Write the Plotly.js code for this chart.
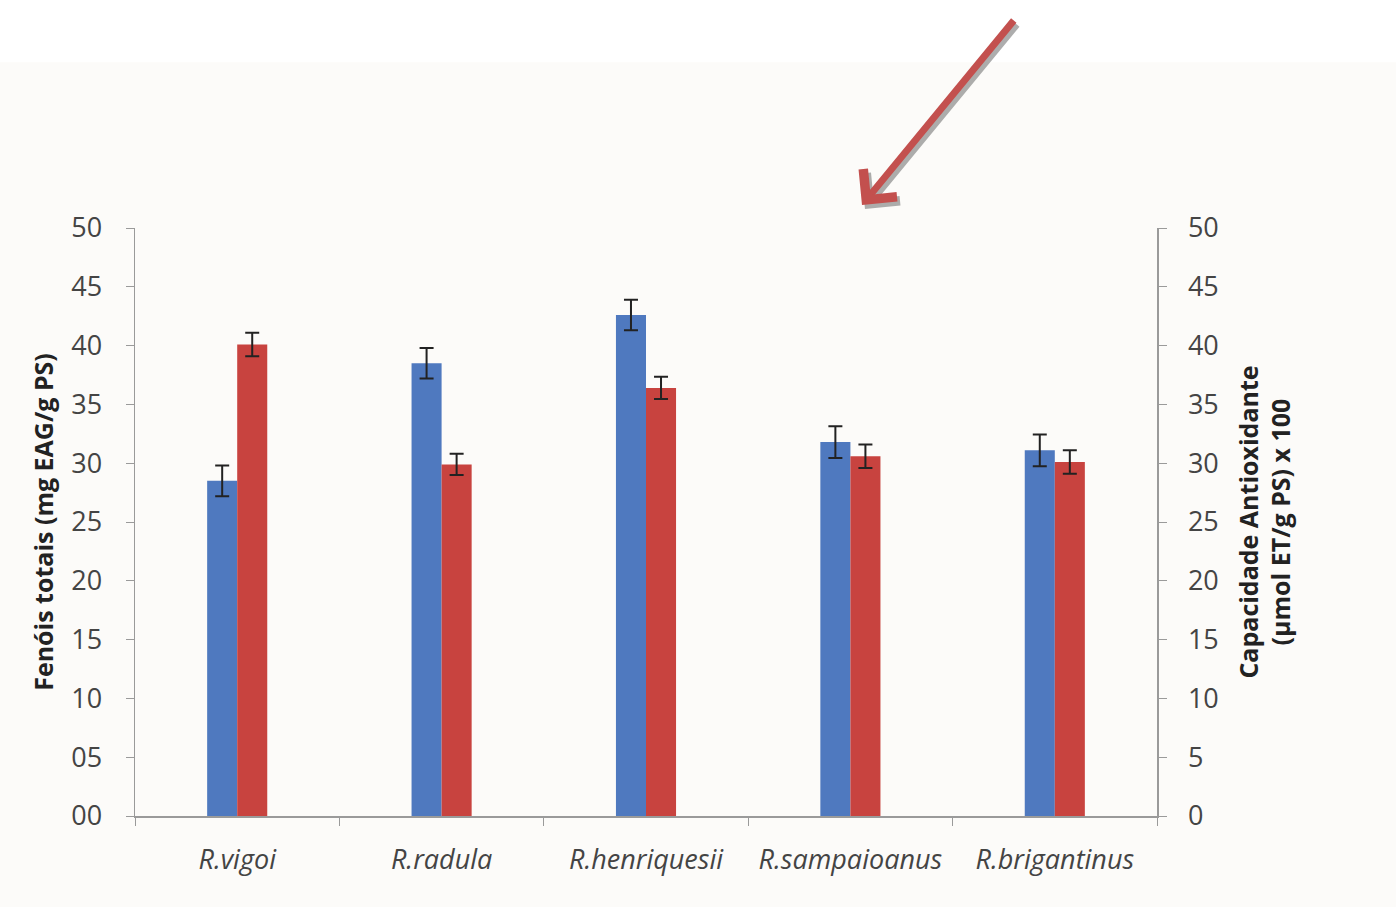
<!DOCTYPE html>
<html><head><meta charset="utf-8">
<script src="https://cdn.plot.ly/plotly-3.0.1.min.js"></script>
<style>html,body{margin:0;padding:0;background:#fff;}#chart{width:1396px;height:907px;}</style>
</head><body><div id="chart"></div>
<script>
const categories = ["R.vigoi", "R.radula", "R.henriquesii", "R.sampaioanus", "R.brigantinus"];
const fenois = [28.5, 38.5, 42.6, 31.8, 31.1];
const fenoisErr = [1.3, 1.3, 1.3, 1.35, 1.35];
const capacidade = [40.1, 29.9, 36.4, 30.6, 30.1];
const capacidadeErr = [1.0, 0.9, 0.95, 1.0, 1.0];
const leftTickVals = [0, 5, 10, 15, 20, 25, 30, 35, 40, 45, 50];
const leftTickText = ["00", "05", "10", "15", "20", "25", "30", "35", "40", "45", "50"];
const rightTickVals = [0, 5, 10, 15, 20, 25, 30, 35, 40, 45, 50];

const font = "'Open Sans', 'DejaVu Sans', sans-serif";

const traces = [
  {
    type: "bar", x: categories, y: fenois, yaxis: "y", offsetgroup: "1",
    marker: {color: "#4f79bf"},
    error_y: {type: "data", array: fenoisErr, visible: true, color: "#222", thickness: 2, width: 7},
    name: "Fenóis totais", hoverinfo: "x+y"
  },
  {
    type: "bar", x: categories, y: capacidade, yaxis: "y2", offsetgroup: "2",
    marker: {color: "#c8433f"},
    error_y: {type: "data", array: capacidadeErr, visible: true, color: "#222", thickness: 2, width: 7},
    name: "Capacidade Antioxidante", hoverinfo: "x+y"
  }
];

const layout = {
  width: 1396, height: 907,
  margin: {l: 135, r: 239, t: 228, b: 91, pad: 0},
  paper_bgcolor: "#ffffff",
  plot_bgcolor: "rgba(0,0,0,0)",
  showlegend: false,
  barmode: "group",
  bargap: 0.706,
  bargroupgap: 0,
  font: {family: font, color: "#444", size: 21},
  xaxis: {
    type: "category",
    showline: true, linecolor: "#9a9a9a", linewidth: 1.5,
    ticks: "outside", tickson: "boundaries", ticklen: 8, tickcolor: "#9a9a9a",
    ticklabelstandoff: 19,
    tickfont: {family: font, size: 27, color: "#444", style: "italic"},
    showgrid: false, zeroline: false
  },
  yaxis: {
    range: [0, 50], tickvals: leftTickVals, ticktext: leftTickText,
    showline: true, linecolor: "#9a9a9a", linewidth: 1.5,
    ticks: "outside", ticklen: 8, tickcolor: "#9a9a9a",
    ticklabelstandoff: 18,
    tickfont: {family: font, size: 27, color: "#444"},
    showgrid: false, zeroline: false,
    title: {text: "Fenóis totais (mg EAG/g PS)", font: {family: font, size: 25, color: "#222", weight: "bold"}, standoff: 10}
  },
  yaxis2: {
    range: [0, 50], tickvals: rightTickVals, overlaying: "y", side: "right",
    showline: true, linecolor: "#9a9a9a", linewidth: 1.5,
    ticks: "outside", ticklen: 8, tickcolor: "#9a9a9a",
    ticklabelstandoff: 16,
    tickfont: {family: font, size: 27, color: "#444"},
    showgrid: false, zeroline: false,
    title: {text: "Capacidade Antioxidante<br>(µmol ET/g PS) x 100", font: {family: font, size: 25, color: "#222", weight: "bold"}, standoff: 22}
  },
  shapes: [
    {type: "rect", xref: "paper", yref: "paper", x0: -0.2, x1: 1.3, y0: -0.2, y1: 1.282,
     fillcolor: "#fcfbf9", line: {width: 0}, layer: "below"}
  ],
  annotations: [
    {xref: "paper", yref: "paper", x: (865 - 135) / 1022, y: 1 + (228 - 209) / 588,
     ax: 153, ay: -186, axref: "pixel", ayref: "pixel", text: "", showarrow: true,
     arrowhead: 4, arrowsize: 1.2, arrowwidth: 7, arrowcolor: "rgba(120,120,120,0.6)"},
    {xref: "paper", yref: "paper", x: (862 - 135) / 1022, y: 1 + (228 - 205) / 588,
     ax: 153, ay: -186, axref: "pixel", ayref: "pixel", text: "", showarrow: true,
     arrowhead: 4, arrowsize: 1.2, arrowwidth: 7, arrowcolor: "#c3504e"}
  ]
};

Plotly.newPlot("chart", traces, layout, {displayModeBar: false, staticPlot: true});
</script></body></html>
